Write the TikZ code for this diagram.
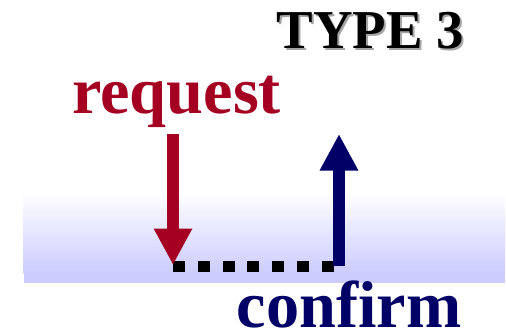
\documentclass[tikz,border=0pt]{standalone}
\usepackage{fontspec}
\setmainfont{Liberation Serif}
\usetikzlibrary{arrows.meta}
\definecolor{reqred}{RGB}{165,0,33}
\definecolor{cnfblue}{RGB}{0,0,102}
\definecolor{lav}{RGB}{204,204,255}
\definecolor{shadowgray}{RGB}{165,165,165}
\tikzset{
  label/.style={inner sep=0pt, anchor=base west, font=\bfseries\fontsize{66.3}{66.3}\selectfont},
  titletext/.style={inner sep=0pt, anchor=base west, font=\bfseries\fontsize{54.8}{54.8}\selectfont},
  flow/.style={line width=12.6pt, line cap=butt, -{Triangle[width=36pt,length=36.5pt]}},
  dots/.style={line width=11.6pt, line cap=butt, dash pattern=on 12pt off 12.7pt},
}
\begin{document}
\begin{tikzpicture}[x=1pt,y=-1pt]
  \useasboundingbox (0,0) rectangle (506,329);
  % shaded band behind the arrows
  \fill[top color=white, bottom color=lav] (23.5,192) rectangle (505,273);
  \fill[lav] (23.5,272.5) rectangle (505,283);
  % title with drop shadow
  \node[titletext, text=shadowgray] at (278.5,50.5) {TYPE 3};
  \node[titletext] (title) at (276.5,48.5) {TYPE 3};
  % labels
  \node[label, text=reqred] (request) at (72,113) {request};
  \node[label, text=cnfblue] (confirm) at (236.5,327) {confirm};
  % anchor points of the exchange
  \coordinate (rtop) at (173,134);
  \coordinate (rtip) at (173,265);
  \coordinate (dstart) at (173.3,266.5);
  \coordinate (dend) at (334.5,266.5);
  \coordinate (cbot) at (339,265.7);
  \coordinate (ctip) at (339,134);
  % dotted wait interval
  \draw[dots] (dstart) -- (dend);
  % request and confirm arrows
  \draw[flow, draw=reqred, fill=reqred] (rtop) -- (rtip);
  \draw[flow, draw=cnfblue, fill=cnfblue] (cbot) -- (ctip);
\end{tikzpicture}
\end{document}
